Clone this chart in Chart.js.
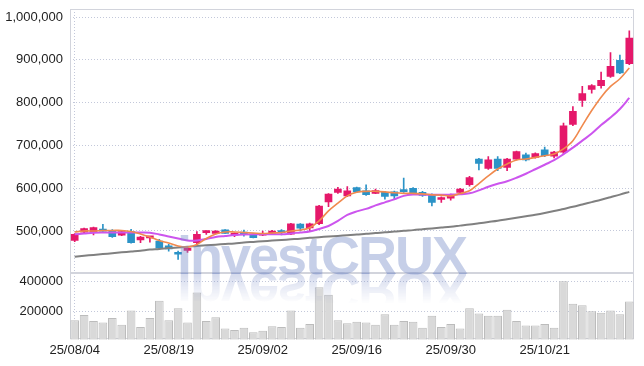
<!DOCTYPE html>
<html>
<head>
<meta charset="utf-8">
<script src="https://cdn.jsdelivr.net/npm/chart.js@4.4.1/dist/chart.umd.min.js"></script>
<style>
  body { margin: 0; background: #fff; }
  #wrap { position: relative; width: 644px; height: 366px; }
  .wm {
    position: absolute; left: 177px; top: 228px;
    font: bold 54px 'Liberation Sans', Arial, sans-serif; line-height: 54px;
    letter-spacing: -2px; color: rgba(120, 140, 200, 0.42);
    pointer-events: none; white-space: nowrap;
  }
  .wm.refl {
    transform: scaleY(-1); transform-origin: 0 45.7px;
    color: rgba(120, 140, 200, 0.32);
    -webkit-mask-image: linear-gradient(to bottom, transparent 16px, #000 46px);
  }
</style>
</head>
<body>
<div id="wrap">
  <canvas id="chart" width="644" height="366"></canvas>
  <div class="wm refl">investCRUX</div>
  <div class="wm">investCRUX</div>
</div>
<script>
const dates = ['25/08/04','25/08/05','25/08/06','25/08/07','25/08/08','25/08/11','25/08/12','25/08/13','25/08/14','25/08/18',
  '25/08/19','25/08/20','25/08/21','25/08/22','25/08/25','25/08/26','25/08/27','25/08/28','25/08/29','25/09/01',
  '25/09/02','25/09/03','25/09/04','25/09/05','25/09/08','25/09/09','25/09/10','25/09/11','25/09/12','25/09/15',
  '25/09/16','25/09/17','25/09/18','25/09/19','25/09/22','25/09/23','25/09/24','25/09/25','25/09/26','25/09/29',
  '25/09/30','25/10/01','25/10/02','25/10/10','25/10/13','25/10/14','25/10/15','25/10/16','25/10/17','25/10/20',
  '25/10/21','25/10/22','25/10/23','25/10/24','25/10/27','25/10/28','25/10/29','25/10/30','25/10/31','25/11/03'];

const opens  = [478000,497500,498500,504000,501500,490000,498500,479000,484000,476500,
  465000,448000,454500,472500,496000,494500,502500,490000,494500,492500,
  490000,494500,498500,492500,516000,507000,517000,568000,590000,582000,
  601500,594000,588000,590500,591500,596000,599500,590500,584500,573500,
  576500,590000,608000,668000,646000,668000,648500,668000,678000,672000,
  689500,675000,684000,749000,805000,831000,840000,861500,899000,891000];
const highs  = [494000,506500,509000,515500,503000,499500,504000,487500,487500,480500,
  469000,453000,461000,498500,500500,501000,503500,495500,502000,494000,
  500000,501500,503000,518000,517500,518500,560000,587500,602000,604000,
  602500,608000,598000,592500,593000,623500,601500,592500,587000,580000,
  586000,600000,628000,670000,674000,674000,670000,687000,682000,683000,
  696000,686000,752000,791000,838000,842000,871500,917000,911000,968000];
const lows   = [475000,496000,490500,499000,485000,489000,471500,472500,474000,458000,
  453000,433500,450000,468500,492000,493000,494000,486500,488000,483500,
  489000,493000,491000,491500,500000,500000,515000,557000,588000,580000,
  590000,583000,587000,574500,574500,590000,585000,581000,558500,566500,
  572000,588000,605000,642500,644000,641000,641000,666000,664000,670000,
  674000,671000,680000,746000,791000,822000,834000,859000,868000,889000];
const closes = [492000,505500,508000,499500,486500,498500,472500,486000,486500,460000,
  458000,445500,459500,492000,500000,500000,494500,494500,493000,484500,
  494500,500000,496000,516500,506500,517000,558500,586000,598000,594000,
  591500,585000,594500,581000,582000,592000,586000,583000,566500,578000,
  584500,598000,625000,658000,666500,646000,668000,685500,666000,681000,
  676000,684500,746000,779500,821000,840000,852000,885000,869500,951000];

const ma5 = [497700,500000,500000,501200,501200,501200,498800,493000,485900,477700,
  471800,464800,462400,468300,482400,493000,497700,497700,496500,495300,
  494100,495300,496500,500000,502300,507700,523500,547000,565000,582000,
  590400,592700,592700,591500,589200,588000,588000,586800,584500,583800,
  582000,587500,594000,611000,629000,644800,656500,666000,668300,672000,
  676000,680000,691800,711000,746400,781600,812900,838000,856000,881000];
const ma10 = [492300,494100,496000,496500,496500,496500,496500,496500,496000,491800,
  487100,482400,477700,477700,481200,485900,488300,490600,491800,492300,
  492300,492300,492300,494100,496500,498800,504700,511700,523500,537600,
  545800,551600,559800,566900,573900,582100,585000,585000,584500,584500,
  585000,585700,588000,595000,603300,610300,616200,624400,633800,644300,
  654900,665500,679500,694800,711200,727700,747600,765200,785200,811000];
const maLong = [440000,442000,444000,446000,448000,450000,452000,454000,456500,458000,
  460000,461500,463000,465000,466500,468000,469500,471000,473000,474500,
  476000,477500,479000,480500,482000,484000,485500,487000,488500,490000,
  491500,493500,495000,497000,498500,500500,502000,504000,506000,508000,
  510000,512500,515000,518000,521000,524000,527500,531000,534500,538000,
  542000,546500,551500,556500,562000,567500,573000,579000,585000,591500];

const volumes = [140000,175000,135000,125000,155000,110000,205000,95000,155000,270000,
  140000,220000,125000,325000,135000,160000,85000,75000,90000,60000,
  70000,100000,95000,205000,90000,115000,360000,310000,140000,120000,
  130000,125000,110000,180000,110000,135000,130000,90000,170000,95000,
  115000,85000,220000,185000,170000,170000,210000,135000,105000,105000,
  115000,90000,400000,250000,240000,200000,190000,205000,180000,265000];

const priceTicks = [500000, 600000, 700000, 800000, 900000, 1000000];
const volumeTicks = [200000, 400000];

const upColor = '#e5186a';
const downColor = '#2b93c7';
const gridColor = '#c3c8da';
const candleColors = opens.map((o, i) => closes[i] >= o ? upColor : downColor);
const tickFont = { family: "'Liberation Sans', Arial, sans-serif", size: 13 };

// light frame round the price and volume panes
const framePlugin = {
  id: 'frame',
  beforeDatasetsDraw(chart) {
    const { ctx, chartArea } = chart;
    ctx.save();
    ctx.strokeStyle = '#d2d4dc';
    ctx.lineWidth = 1;
    ['y', 'y2'].forEach(id => {
      const s = chart.scales[id];
      ctx.strokeRect(Math.round(chartArea.left) + 0.5, Math.round(s.top) + 0.5,
        Math.round(chartArea.width) - 1, Math.round(s.height) - 1);
    });
    ctx.restore();
  }
};

// fixed label column, and no extra room kept for the edge labels
function fitLeftAxis(s) {
  s.width = 70;
  s.paddingTop = 0;
  s.paddingBottom = 0;
}

new Chart(document.getElementById('chart'), {
  type: 'bar',
  data: {
    labels: dates,
    datasets: [
      { type: 'line', label: 'MA5', data: ma5, yAxisID: 'y', borderColor: '#f08a4e', borderWidth: 1.6,
        pointRadius: 0, tension: 0.35, order: 0 },
      { type: 'line', label: 'MA10', data: ma10, yAxisID: 'y', borderColor: '#cc55ee', borderWidth: 2,
        pointRadius: 0, tension: 0.35, order: 0 },
      { type: 'line', label: 'MA120', data: maLong, yAxisID: 'y', borderColor: '#808080', borderWidth: 2,
        pointRadius: 0, tension: 0.35, order: 0 },
      { label: 'wick', data: lows.map((l, i) => [l, highs[i]]), yAxisID: 'y',
        backgroundColor: candleColors, barThickness: 1, grouped: false, order: 2 },
      { label: 'body', data: opens.map((o, i) => [o, closes[i]]), yAxisID: 'y',
        backgroundColor: candleColors, barThickness: 7, minBarLength: 2, grouped: false, order: 1 },
      { label: 'volume', data: volumes, yAxisID: 'y2', backgroundColor: '#d9d9d9', borderColor: '#bcbcbc',
        borderWidth: 1, barPercentage: 0.92, categoryPercentage: 1, grouped: false, order: 3 }
    ]
  },
  options: {
    responsive: false,
    animation: false,
    layout: { padding: { top: 9, right: 10, bottom: 5, left: 0 } },
    plugins: { legend: { display: false }, tooltip: { enabled: false } },
    scales: {
      x: {
        offset: true,
        grid: { offset: false, drawTicks: false, color: c => c.index % 10 === 0 ? gridColor : 'rgba(0,0,0,0)' },
        border: { display: false, dash: [1, 2] },
        ticks: { autoSkip: false, maxRotation: 0, padding: 3, color: '#222', font: tickFont,
          callback: (v, i) => i % 10 === 0 ? dates[i] : null }
      },
      // the pane defined later in the stack is laid out on top
      y2: {
        stack: 'panes', stackWeight: 1, position: 'left',
        min: 13000, max: 452000,
        afterBuildTicks: s => { s.ticks = volumeTicks.map(v => ({ value: v })); },
        afterFit: fitLeftAxis,
        grid: { color: gridColor, drawTicks: false },
        border: { display: false, dash: [1, 2] },
        ticks: { padding: 7, color: '#222', font: tickFont, callback: v => String(v) }
      },
      y: {
        stack: 'panes', stackWeight: 4, position: 'left',
        min: 401000, max: 1019000,
        afterBuildTicks: s => { s.ticks = priceTicks.map(v => ({ value: v })); },
        afterFit: fitLeftAxis,
        grid: { color: gridColor, drawTicks: false },
        border: { display: false, dash: [1, 2] },
        ticks: { padding: 7, color: '#222', font: tickFont, callback: v => v.toLocaleString('en-US') }
      }
    }
  },
  plugins: [framePlugin]
});
</script>
</body>
</html>
